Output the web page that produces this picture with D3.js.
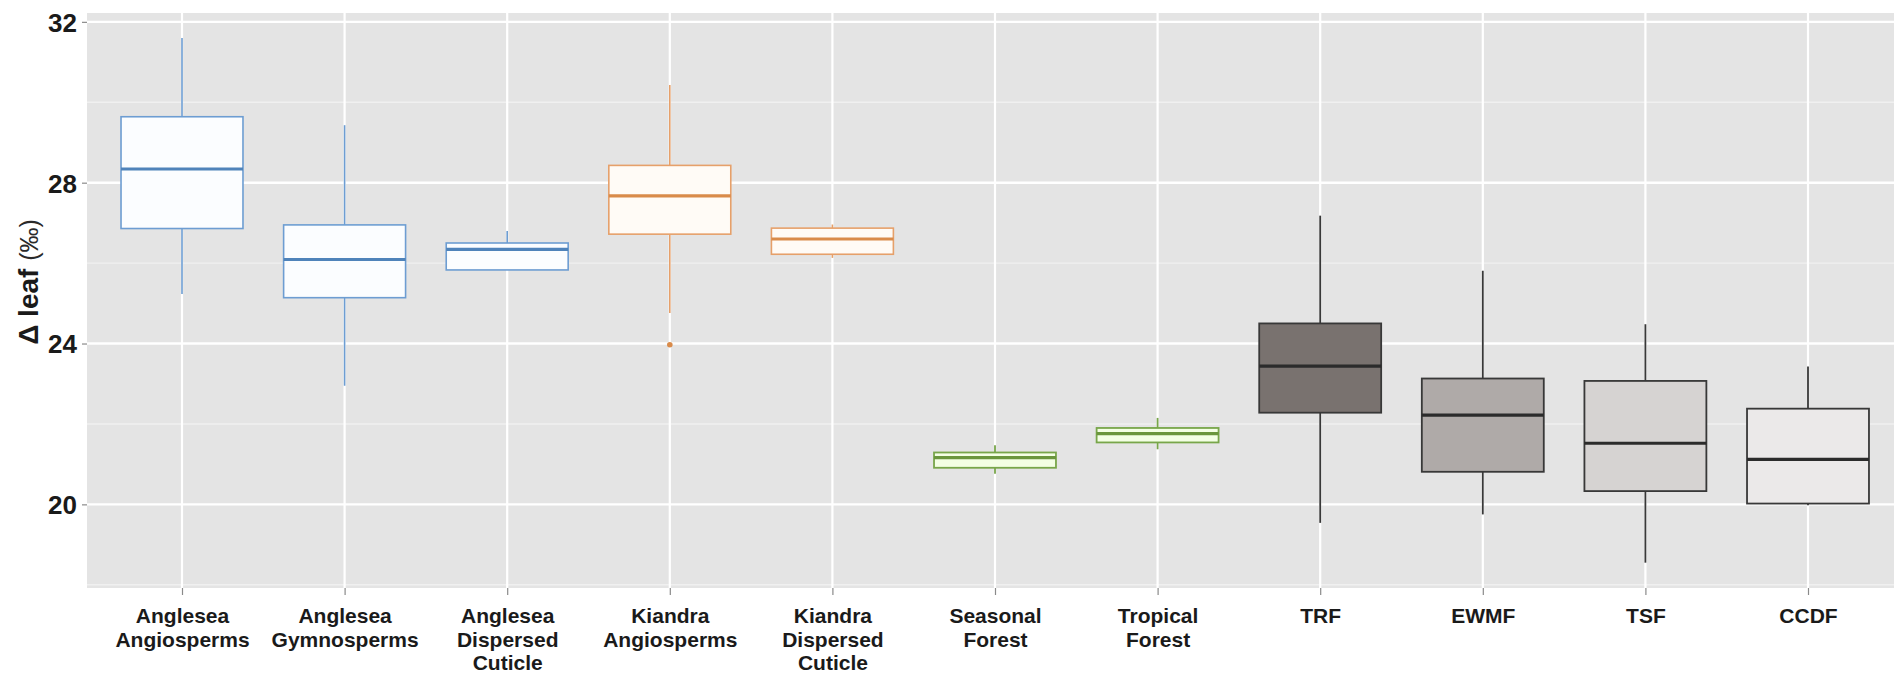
<!DOCTYPE html>
<html><head><meta charset="utf-8">
<script src="https://cdn.jsdelivr.net/npm/d3@7"></script>
<style>
html,body{margin:0;padding:0;background:#fff;}
svg{display:block;}
.lab{font-family:"Liberation Sans Narrow","Liberation Sans",Arial,sans-serif;font-weight:bold;fill:#1a1a1a;}
</style></head>
<body>
<svg id="chart" width="1894" height="677"></svg>
<script>
// ---- data ----
const categories = ["Anglesea Angiosperms","Anglesea Gymnosperms","Anglesea Dispersed Cuticle","Kiandra Angiosperms","Kiandra Dispersed Cuticle","Seasonal Forest","Tropical Forest","TRF","EWMF","TSF","CCDF"];
const labelLines = [["Anglesea","Angiosperms"],["Anglesea","Gymnosperms"],["Anglesea","Dispersed","Cuticle"],["Kiandra","Angiosperms"],["Kiandra","Dispersed","Cuticle"],["Seasonal","Forest"],["Tropical","Forest"],["TRF"],["EWMF"],["TSF"],["CCDF"]];
const groups   = ["blue","blue","blue","orange","orange","green","green","g1","g2","g3","g4"];
const whiskLo  = [25.23,22.95,25.83,24.76,26.13,20.76,21.37,19.54,19.75,18.55,19.98];
const q1       = [26.86,25.14,25.83,26.72,26.22,20.91,21.54,22.28,20.81,20.33,20.02];
const medians  = [28.34,26.09,26.34,27.67,26.60,21.16,21.76,23.44,22.22,21.52,21.12];
const q3       = [29.64,26.95,26.50,28.43,26.87,21.29,21.90,24.50,23.13,23.07,22.38];
const whiskHi  = [31.60,29.43,26.80,30.43,26.96,21.47,22.15,27.18,25.81,24.48,23.43];
const outliers = [{cat:"Kiandra Angiosperms", value:23.97}];
const yTicks   = [20,24,28,32];
const yMinor   = [18,22,26,30];

// ---- styles ----
const style = {
  blue:  {fill:"#fbfdff", stroke:"#6d9dd2", med:"#4f83ba"},
  orange:{fill:"#fffbf6", stroke:"#e6a06a", med:"#d98b4a"},
  green: {fill:"#f3ffe4", stroke:"#78a64a", med:"#6a963c"},
  g1:    {fill:"#79726f", stroke:"#383838", med:"#2b2b2b"},
  g2:    {fill:"#afaaa8", stroke:"#383838", med:"#2b2b2b"},
  g3:    {fill:"#d6d3d2", stroke:"#383838", med:"#2b2b2b"},
  g4:    {fill:"#ebe9e9", stroke:"#383838", med:"#2b2b2b"}
};

const svg = d3.select("#chart");
const panel = {left:87, top:13, right:1894, bottom:588};

const y = d3.scaleLinear().domain([17.92, 32.22]).range([panel.bottom, panel.top]);
const x = d3.scalePoint().domain(categories).range([182, 1808]);
const step = x.step();
const boxW = step * 0.75;

// panel background
svg.append("rect").attr("x",panel.left).attr("y",panel.top)
  .attr("width",panel.right-panel.left).attr("height",panel.bottom-panel.top)
  .attr("fill","#e4e4e4");

// minor grid
svg.append("g").selectAll("line").data(yMinor.filter(v=>v>y.domain()[0] && v<y.domain()[1])).join("line")
  .attr("x1",panel.left).attr("x2",panel.right)
  .attr("y1",d=>y(d)).attr("y2",d=>y(d))
  .attr("stroke","#f0f0f0").attr("stroke-width",1.4);
// major grid
svg.append("g").selectAll("line").data(yTicks).join("line")
  .attr("x1",panel.left).attr("x2",panel.right)
  .attr("y1",d=>y(d)).attr("y2",d=>y(d))
  .attr("stroke","#ffffff").attr("stroke-width",2.4);
svg.append("g").selectAll("line").data(categories).join("line")
  .attr("x1",d=>x(d)).attr("x2",d=>x(d))
  .attr("y1",panel.top).attr("y2",panel.bottom)
  .attr("stroke","#ffffff").attr("stroke-width",2.2);

// y axis
const yAxis = d3.axisLeft(y).tickValues(yTicks).tickSize(5).tickPadding(5).tickFormat(d3.format("d"));
const gy = svg.append("g").attr("transform",`translate(${panel.left},0)`).call(yAxis);
gy.select(".domain").remove();
gy.selectAll(".tick line").attr("stroke","#8a8a8a").attr("stroke-width",1.2);
gy.selectAll(".tick text").attr("class","lab").style("font-family",'"Liberation Sans","Arial",sans-serif')
  .style("font-size","26px").style("font-weight","bold").attr("fill","#1a1a1a").attr("dy","0.36em");

// x axis
const xAxis = d3.axisBottom(x).tickSize(7).tickFormat("");
const gx = svg.append("g").attr("transform",`translate(0,${panel.bottom})`).call(xAxis);
gx.select(".domain").remove();
gx.selectAll(".tick line").attr("stroke","#8a8a8a").attr("stroke-width",1.2);
gx.selectAll(".tick").each(function(d,i){
  const t = d3.select(this).append("text").attr("class","lab")
    .attr("text-anchor","middle").attr("y",35).style("font-size","21px");
  labelLines[i].forEach((ln,j)=>{
    t.append("tspan").attr("x",0).attr("dy", j===0?0:23.5).text(ln);
  });
});

// y title
const yt = svg.append("text").attr("transform","translate(38,282) rotate(-90)")
  .attr("text-anchor","middle").attr("class","lab").style("font-size","28px");
yt.append("tspan").text("Δ leaf ");
yt.append("tspan").style("font-weight","normal").style("font-size","25px").attr("fill","#2a2a2a").text("(‰)");

// boxes
const boxes = svg.append("g").selectAll("g").data(categories).join("g");
boxes.each(function(c,i){
  const g = d3.select(this), s = style[groups[i]], cx = x(c);
  const sw = groups[i].startsWith("g") ? 1.8 : 1.6;
  g.append("line").attr("x1",cx).attr("x2",cx).attr("y1",y(q3[i])).attr("y2",y(whiskHi[i]))
    .attr("stroke",s.stroke).attr("stroke-width",sw);
  g.append("line").attr("x1",cx).attr("x2",cx).attr("y1",y(q1[i])).attr("y2",y(whiskLo[i]))
    .attr("stroke",s.stroke).attr("stroke-width",sw);
  g.append("rect").attr("x",cx-boxW/2).attr("width",boxW)
    .attr("y",y(q3[i])).attr("height",y(q1[i])-y(q3[i]))
    .attr("fill",s.fill).attr("stroke",s.stroke).attr("stroke-width",sw);
  g.append("line").attr("x1",cx-boxW/2).attr("x2",cx+boxW/2)
    .attr("y1",y(medians[i])).attr("y2",y(medians[i]))
    .attr("stroke",s.med).attr("stroke-width",3.2);
});

// outliers
svg.append("g").selectAll("circle").data(outliers).join("circle")
  .attr("cx",d=>x(d.cat)).attr("cy",d=>y(d.value)).attr("r",2.8)
  .attr("fill",d=>style[groups[categories.indexOf(d.cat)]].med);
</script>
</body></html>
